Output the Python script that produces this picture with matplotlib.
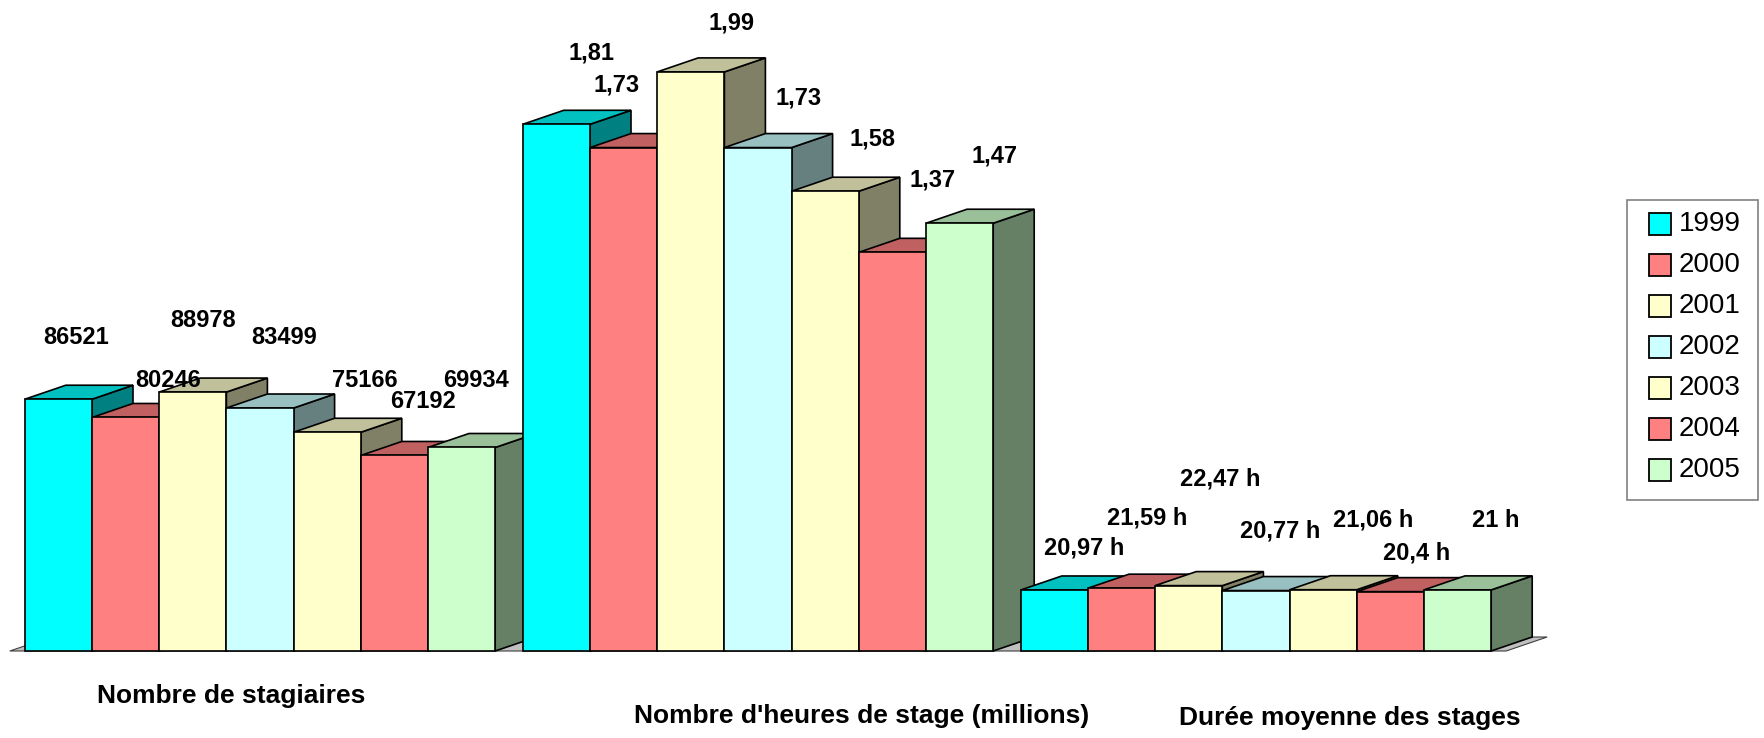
import matplotlib
matplotlib.use("Agg")
import matplotlib.pyplot as plt
from matplotlib.patches import Polygon, Rectangle

plt.rcParams['font.family'] = ['Liberation Sans', 'DejaVu Sans']

# ---------------- data ----------------
years = ["1999", "2000", "2001", "2002", "2003", "2004", "2005"]
categories = ["Nombre de stagiaires",
              "Nombre d'heures de stage (millions)",
              "Durée moyenne des stages"]
stagiaires = [86521, 80246, 88978, 83499, 75166, 67192, 69934]
heures_millions = [1.81, 1.73, 1.99, 1.73, 1.58, 1.37, 1.47]
duree_moyenne = [20.97, 21.59, 22.47, 20.77, 21.06, 20.4, 21.0]
suffixes = ["", "", " h"]

# plotting scale per group (chart shares a single value axis)
group_scale = [1e-5, 1.0, 0.01]
series = [stagiaires, heures_millions, duree_moyenne]

# ---------------- styles ----------------
front_colors = ["#00ffff", "#ff8080", "#ffffcc", "#ccffff", "#ffffcc", "#ff8080", "#ccffcc"]
top_colors = ["#00c0c0", "#c06060", "#c0c09a", "#99c0c0", "#c0c09a", "#c06060", "#99c099"]
side_colors = ["#008080", "#804040", "#808066", "#668080", "#808066", "#804040", "#668066"]

# label offsets (pixels, relative to front-centre of bar top)
label_offsets = [
    [(17.6, -62.2), (42.4, -36.5), (10.2, -71.1), (24.0, -71.0), (37.8, -51.3), (28.6, -53.5), (14.4, -66.5)],
    [(35.6, -71.3), (-6.6, -62.6), (41.2, -49.4), (40.5, -49.6), (47.3, -52.7), (40.1, -72.8), (34.9, -67.2)],
    [(29.6, -41.5), (25.9, -69.7), (31.7, -107.1), (24.5, -59.1), (50.3, -70.2), (26.6, -38.6), (38.4, -68.9)],
]
cat_offsets = [(-29, 45), (104, 65), (94, 67)]

W, H, DPI = 1765, 738, 100
BAR_PX = 67.2           # bar width in pixels
X0_PX = 24.8            # left of first bar
BASE_PX = 651           # baseline pixel row
UNIT_PX = 291           # pixels per value unit
GROUP_STEP = 498 / BAR_PX
DX = 41 / BAR_PX
DY = 14 / UNIT_PX
PT = 72 / DPI

fig = plt.figure(figsize=(W / DPI, H / DPI), dpi=DPI)
ax = fig.add_axes([0, 0, 1, 1])
ax.set_xlim(-X0_PX / BAR_PX, (W - X0_PX) / BAR_PX)
ax.set_ylim(-(H - BASE_PX) / UNIT_PX, BASE_PX / UNIT_PX)
ax.axis('off')

# floor
nbars = len(years)
fl_left = -15 / BAR_PX
fl_right = 2 * GROUP_STEP + nbars + 15 / BAR_PX
floor = Polygon([(fl_left, 0), (fl_right, 0), (fl_right + DX, DY), (fl_left + DX, DY)],
                closed=True, facecolor="#c0c0c0", edgecolor="#404040", lw=0.8, zorder=1)
ax.add_patch(floor)

z = 2
for g, (vals, sc) in enumerate(zip(series, group_scale)):
    for i, v in enumerate(vals):
        h = v * sc
        x = g * GROUP_STEP + i
        front = Polygon([(x, 0), (x + 1, 0), (x + 1, h), (x, h)], closed=True,
                        facecolor=front_colors[i], edgecolor="black", lw=1.2,
                        joinstyle='miter', zorder=z)
        top = Polygon([(x, h), (x + 1, h), (x + 1 + DX, h + DY), (x + DX, h + DY)], closed=True,
                      facecolor=top_colors[i], edgecolor="black", lw=1.2,
                      joinstyle='miter', zorder=z)
        side = Polygon([(x + 1, 0), (x + 1 + DX, DY), (x + 1 + DX, h + DY), (x + 1, h)], closed=True,
                       facecolor=side_colors[i], edgecolor="black", lw=1.2,
                       joinstyle='miter', zorder=z)
        for p in (side, top, front):
            ax.add_patch(p)
        z += 1
        txt = f"{v:g}".replace(".", ",") + suffixes[g]
        dxp, dyp = label_offsets[g][i]
        ax.annotate(txt, xy=(x + 0.5, h), xytext=(dxp * PT, -dyp * PT),
                    textcoords='offset points', ha='center', va='center',
                    fontsize=17, fontweight='bold', color='black', zorder=100)

for g, cat in enumerate(categories):
    cx = g * GROUP_STEP + nbars / 2
    dxp, dyp = cat_offsets[g]
    ax.annotate(cat, xy=(cx, 0), xytext=(dxp * PT, -dyp * PT), textcoords='offset points',
                ha='center', va='center', fontsize=19, fontweight='bold', zorder=100)

# legend (drawn as a framed key in figure pixels)
LEG_BOX = (1627, 200, 1758, 500)   # left, top, right, bottom
LEG_FIRST, LEG_STEP = 224, 41
SW = 22
def fx(px): return px / W
def fy(py): return 1 - py / H
fig.add_artist(Rectangle((fx(LEG_BOX[0]), fy(LEG_BOX[3])), fx(LEG_BOX[2] - LEG_BOX[0]),
                         (LEG_BOX[3] - LEG_BOX[1]) / H, transform=fig.transFigure,
                         facecolor='white', edgecolor='#808080', lw=1.2, zorder=50))
for k, (yr, col) in enumerate(zip(years, front_colors)):
    cy = LEG_FIRST + k * LEG_STEP
    fig.add_artist(Rectangle((fx(1649), fy(cy + SW / 2)), SW / W, SW / H, transform=fig.transFigure,
                             facecolor=col, edgecolor='black', lw=1.3, zorder=51))
    fig.text(fx(1679), fy(cy), yr, ha='left', va='center', fontsize=20, zorder=52)

fig.savefig("out.png", dpi=DPI)
